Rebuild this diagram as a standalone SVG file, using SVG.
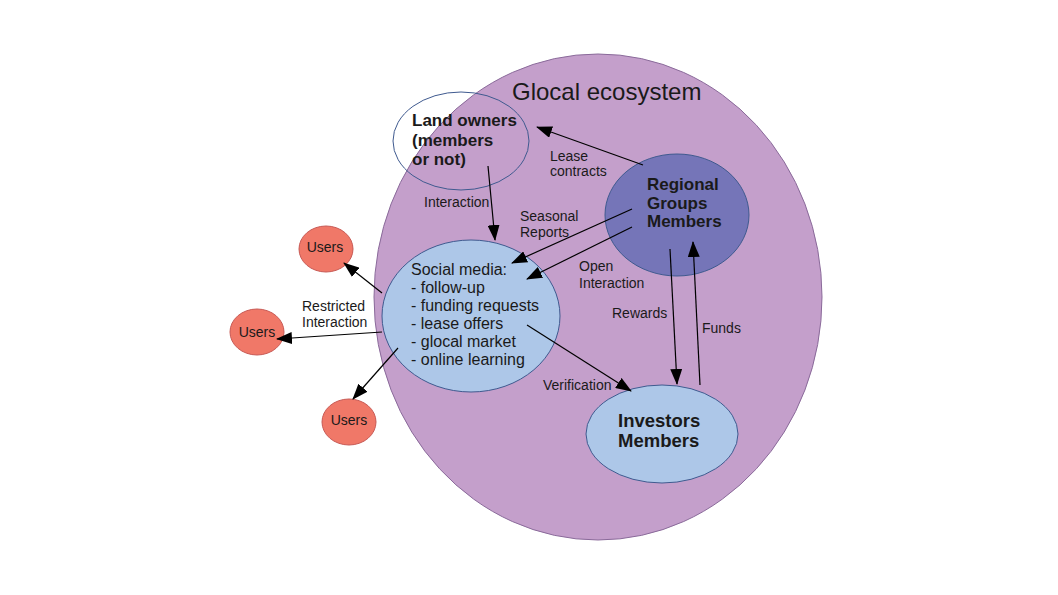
<svg xmlns="http://www.w3.org/2000/svg" width="1058" height="595" viewBox="0 0 1058 595">
<defs>
<marker id="ah" markerWidth="16" markerHeight="12" refX="15" refY="6" orient="auto" markerUnits="userSpaceOnUse">
<path d="M0,0 L16,6 L0,12 Z" fill="#000"/>
</marker>
<style>
text{font-family:"Liberation Sans",Arial,sans-serif;fill:#1a1a1a}
.lbl{font-size:14px}
.b17{font-size:17px;font-weight:bold}
.sm{font-size:16px}
.u{font-size:14px;text-anchor:middle}
.node{stroke:#3f5a8f;stroke-width:1}
.user{fill:#f07868;stroke:#c85a55;stroke-width:1}
.con line{stroke:#000;stroke-width:1.2;marker-end:url(#ah)}
</style>
</defs>
<rect width="1058" height="595" fill="#fff"/>
<g id="ecosystem">
<ellipse cx="598" cy="297" rx="224" ry="243" fill="#c49fcb" stroke="#8a6a9a" stroke-width="1"/>
<text x="512" y="100" style="font-size:24px">Glocal ecosystem</text>
</g>
<g id="landowners">
<ellipse class="node" cx="461" cy="141" rx="68" ry="49" fill="none"/>
<text class="b17" x="412" y="126">Land owners</text>
<text class="b17" x="412" y="146">(members</text>
<text class="b17" x="412" y="165">or not)</text>
</g>
<g id="regional">
<ellipse class="node" cx="677" cy="215" rx="72" ry="61" fill="#7575b8"/>
<text class="b17" x="647" y="190">Regional</text>
<text class="b17" x="647" y="209">Groups</text>
<text class="b17" x="647" y="227">Members</text>
</g>
<g id="socialmedia">
<ellipse class="node" cx="471" cy="316" rx="89" ry="76" fill="#adc7e8"/>
<text class="sm" x="411" y="275">Social media:</text>
<text class="sm" x="411" y="293">- follow-up</text>
<text class="sm" x="411" y="311">- funding requests</text>
<text class="sm" x="411" y="329">- lease offers</text>
<text class="sm" x="411" y="347">- glocal market</text>
<text class="sm" x="411" y="365">- online learning</text>
</g>
<g id="investors">
<ellipse class="node" cx="662" cy="434" rx="76" ry="49" fill="#adc7e8"/>
<text x="618" y="427" style="font-size:18.5px;font-weight:bold">Investors</text>
<text x="618" y="447" style="font-size:18.5px;font-weight:bold">Members</text>
</g>
<g id="users1">
<ellipse class="user" cx="326" cy="249" rx="27" ry="23"/>
<text class="u" x="325" y="252">Users</text>
</g>
<g id="users2">
<ellipse class="user" cx="257" cy="332" rx="27" ry="23"/>
<text class="u" x="257" y="337">Users</text>
</g>
<g id="users3">
<ellipse class="user" cx="349" cy="422" rx="27" ry="23"/>
<text class="u" x="349" y="425">Users</text>
</g>
<g id="connectors" class="con">
<line x1="643" y1="165" x2="537" y2="127"/>
<line x1="488" y1="166" x2="495" y2="240"/>
<line x1="632" y1="209" x2="512" y2="263"/>
<line x1="632" y1="227" x2="527" y2="279"/>
<line x1="670" y1="249" x2="677" y2="384"/>
<line x1="700" y1="385" x2="693" y2="242"/>
<line x1="527" y1="325" x2="631" y2="391"/>
<line x1="382" y1="293" x2="344" y2="263"/>
<line x1="382" y1="332" x2="277" y2="339"/>
<line x1="398" y1="348" x2="353" y2="399"/>
</g>
<g id="labels" class="lbl">
<text class="lbl" x="550" y="161">Lease</text>
<text class="lbl" x="550" y="176">contracts</text>
<text class="lbl" x="424" y="207">Interaction</text>
<text class="lbl" x="520" y="221">Seasonal</text>
<text class="lbl" x="520" y="237">Reports</text>
<text class="lbl" x="579" y="271">Open</text>
<text class="lbl" x="579" y="288">Interaction</text>
<text class="lbl" x="612" y="318">Rewards</text>
<text class="lbl" x="702" y="333">Funds</text>
<text class="lbl" x="543" y="390">Verification</text>
<text class="lbl" x="302" y="311">Restricted</text>
<text class="lbl" x="302" y="327">Interaction</text>
</g>
</svg>
